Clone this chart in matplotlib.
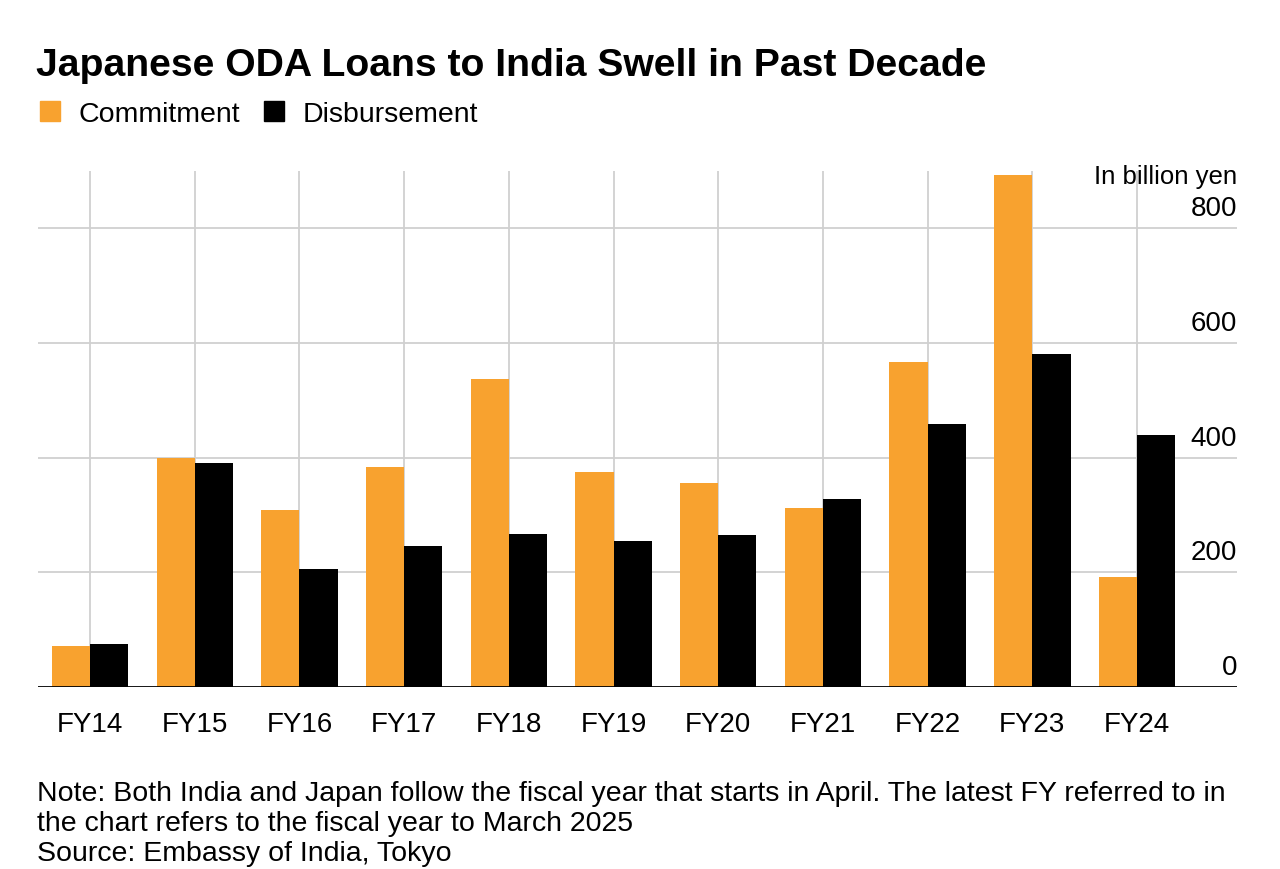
import matplotlib.pyplot as plt
import numpy as np
from matplotlib.lines import Line2D
from matplotlib.transforms import blended_transform_factory, offset_copy

plt.rcParams['font.family'] = ['Liberation Sans', 'DejaVu Sans']

# Data (billion yen)
years = ["FY14", "FY15", "FY16", "FY17", "FY18", "FY19", "FY20", "FY21", "FY22", "FY23", "FY24"]
commitment = [72, 400, 309, 384, 537, 375, 356, 312, 567, 893, 192]
disbursement = [75, 390, 206, 246, 267, 255, 265, 328, 459, 581, 439]
yticks = [0, 200, 400, 600, 800]

orange = "#F8A22F"
black = "#000000"
grid = "#D0D0D0"

fig = plt.figure(figsize=(12.8, 8.7), dpi=100)
ax = fig.add_axes([38 / 1280, 1 - 688 / 870, (1237 - 38) / 1280, (688 - 172) / 870])

x = np.arange(len(years))
w = 0.365
ax.bar(x - w / 2, commitment, w, color=orange, zorder=3)
ax.bar(x + w / 2, disbursement, w, color=black, zorder=3)

ax.set_xlim(-0.497, 10.955)
ax.set_ylim(0, 900)

# gridlines
for xi in x:
    ax.axvline(xi, color=grid, lw=1.3, zorder=1)
for v in yticks[1:]:
    ax.axhline(v, color=grid, lw=1.3, zorder=1)
ax.axhline(0, color="#000000", lw=2, zorder=4)

for s in ax.spines.values():
    s.set_visible(False)
ax.set_yticks([])
ax.set_xticks(x)
ax.set_xticklabels(years, fontsize=20)
ax.tick_params(axis="x", length=0, pad=17)

# y labels inside the plot on the right, above gridlines
trans = offset_copy(blended_transform_factory(ax.transAxes, ax.transData), fig=fig, x=0, y=7, units="dots")
for v in yticks:
    ax.text(1.0, v, str(v), transform=trans, ha="right", va="bottom", fontsize=20)
fig.text(1237 / 1280, 1 - 177 / 870, "In billion yen", ha="right", va="center", fontsize=18.5)

# title
fig.text(36 / 1280, 1 - 66 / 870, "Japanese ODA Loans to India Swell in Past Decade",
         ha="left", va="center", fontsize=28.2, fontweight="bold")

# legend
handles = [Line2D([], [], marker="s", ls="", color=orange, markersize=14),
           Line2D([], [], marker="s", ls="", color=black, markersize=14)]
fig.legend(handles, ["Commitment", "Disbursement"], loc="center left",
           bbox_to_anchor=(10 / 1280, 1 - 115 / 870), ncol=2, frameon=False,
           fontsize=20.5, handlelength=1.0, handletextpad=0.5, columnspacing=0.7)

# note / source
note = ("Note: Both India and Japan follow the fiscal year that starts in April. The latest FY referred to in\n"
        "the chart refers to the fiscal year to March 2025\n"
        "Source: Embassy of India, Tokyo")
fig.text(37 / 1280, 1 - 781 / 870, note, ha="left", va="top", fontsize=20.5, linespacing=1.2)

fig.savefig("out.png", dpi=100, facecolor="white")
